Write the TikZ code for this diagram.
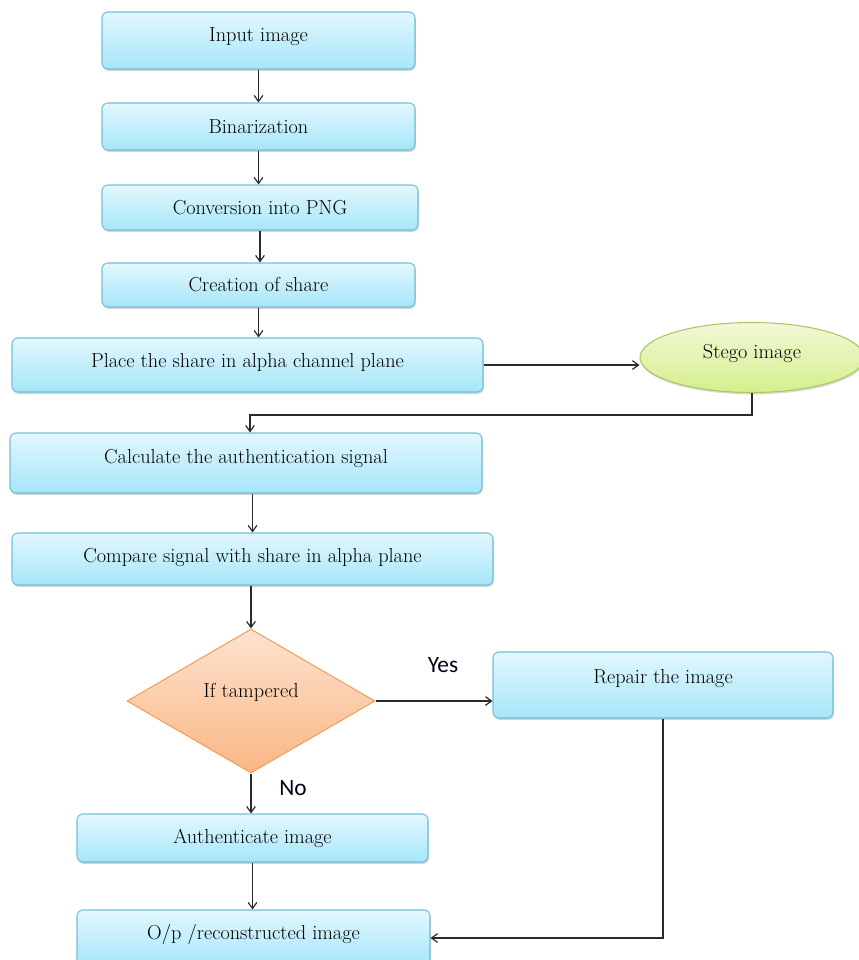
\documentclass[tikz,border=0pt]{standalone}
\usepackage{fontspec}
\newfontfamily\carl{Carlito}
\usetikzlibrary{shapes.geometric,arrows.meta,shadows}
\definecolor{boxtop}{HTML}{E2F7FD}
\definecolor{boxbot}{HTML}{A6E6F9}
\definecolor{boxline}{HTML}{72BFD8}
\definecolor{dtop}{HTML}{FDE3D0}
\definecolor{dbot}{HTML}{FBB684}
\definecolor{dline}{HTML}{F0A060}
\definecolor{etop}{HTML}{F2F9D6}
\definecolor{ebot}{HTML}{D5EE8E}
\definecolor{eline}{HTML}{A8C860}
\definecolor{lncol}{HTML}{2A2A2A}
\tikzset{
  proc/.style={rectangle, rounded corners=4.5pt, draw=boxline, line width=0.8pt,
    top color=boxtop, bottom color=boxbot, inner sep=0pt,
    drop shadow={opacity=0.35, shadow xshift=0.6pt, shadow yshift=-1.4pt},
    font=\fontsize{15.2}{18}\selectfont},
  decide/.style={diamond, draw=dline, line width=0.8pt, top color=dtop, bottom color=dbot,
    inner sep=0pt, minimum width=186pt, minimum height=108pt,
    font=\fontsize{15.2}{18}\selectfont},
  term/.style={ellipse, draw=eline, line width=0.8pt, top color=etop, bottom color=ebot,
    inner sep=0pt, minimum width=168pt, minimum height=52.5pt,
    drop shadow={opacity=0.3, shadow xshift=0.6pt, shadow yshift=-1.4pt},
    font=\fontsize{15.2}{18}\selectfont},
  arr/.style={draw=lncol, line width=0.9pt, -{Straight Barb[length=4.5pt,width=6.5pt]}},
  lbl/.style={font=\carl\fontsize{17.5}{20}\selectfont, text=black!90!blue, inner sep=0pt}
}
\newcommand{\up}[2]{\raisebox{#1}[\height][\depth]{#2}}
\begin{document}
\begin{tikzpicture}[x=0.75pt,y=-0.75pt]
\useasboundingbox (0,0) rectangle (858,960);
\node[proc, minimum width=234.75pt, minimum height=42.75pt] (in) at (258.5,40.5) {\up{2.6pt}{Input image}};
\node[proc, minimum width=234.75pt, minimum height=35.25pt] (bin) at (258.5,126.5) {Binarization};
\node[proc, minimum width=237pt, minimum height=33.75pt] (conv) at (260,207.5) {Conversion into PNG};
\node[proc, minimum width=234.75pt, minimum height=33pt] (share) at (258.5,285) {Creation of share};
\node[proc, minimum width=353.25pt, minimum height=40.5pt] (place) at (247.5,365) {\up{2.2pt}{Place the share in alpha channel plane}};
\node[term] (stego) at (752,357.5) {\up{3pt}{Stego image}};
\node[proc, minimum width=354pt, minimum height=45pt] (calc) at (246,463) {\up{3.7pt}{Calculate the authentication signal}};
\node[proc, minimum width=360.75pt, minimum height=39pt] (comp) at (252.5,559) {\up{1.5pt}{Compare signal with share in alpha plane}};
\node[decide] (dia) at (251,701) {\up{6.7pt}{If tampered}};
\node[proc, minimum width=255pt, minimum height=49.5pt] (rep) at (663,685) {\up{5.2pt}{Repair the image}};
\node[proc, minimum width=263.25pt, minimum height=36pt] (auth) at (252.5,838) {Authenticate image};
\node[proc, minimum width=264.75pt, minimum height=42pt] (out) at (253.5,938) {\up{3pt}{O/p /reconstructed image}};
\node[lbl] (yes) at (443,665) {Yes};
\node[lbl] (no) at (293,788) {No};
\coordinate (j) at (250,415);
\draw[arr] (in.south) -- (bin.north);
\draw[arr] (bin.south) -- (bin.south |- conv.north);
\draw[arr] (conv.south) -- (conv.south |- share.north);
\draw[arr] (share.south) -- (share.south |- place.north);
\draw[arr] (place.east) -- (place.east -| stego.west);
\draw[arr] (stego.south) |- (j) -- (j |- calc.north);
\draw[arr] (comp.north |- calc.south) -- (comp.north);
\draw[arr] (comp.south -| dia.north) -- (dia.north);
\draw[arr] (dia.east) -- (dia.east -| rep.west);
\draw[arr] (dia.south) -- (dia.south |- auth.north);
\draw[arr] (auth.south) -- (auth.south |- out.north);
\draw[arr] (rep.south) |- (out.east);
\end{tikzpicture}
\end{document}
